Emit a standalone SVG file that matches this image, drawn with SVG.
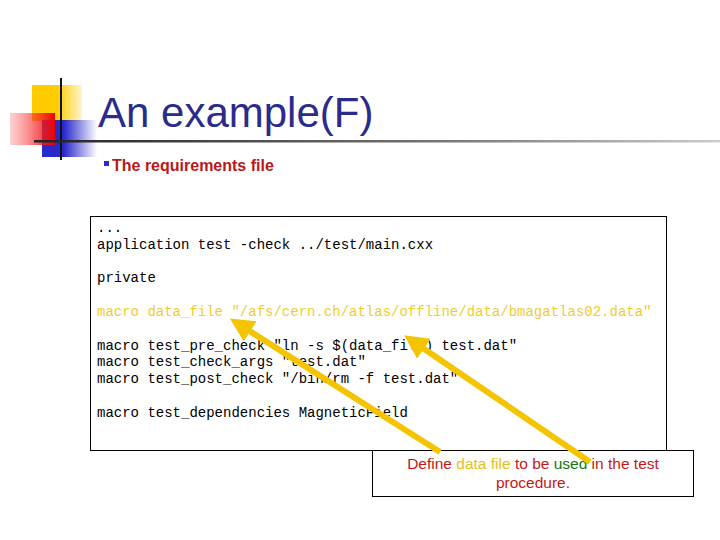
<svg xmlns="http://www.w3.org/2000/svg" width="720" height="540" viewBox="0 0 720 540">
<style>
.code{font-family:"Liberation Mono",monospace;font-size:14px;fill:#000}
.call{font-family:"Liberation Sans",Arial,sans-serif;font-size:15.5px;fill:#c41818}
.arrow{stroke:#f5c400;stroke-width:6;fill:none;marker-end:url(#ah)}
</style>
<defs>
<linearGradient id="red" x1="0" x2="1"><stop offset="0" stop-color="#ff6666" stop-opacity="0.3"/><stop offset="1" stop-color="#ee0000"/></linearGradient>
<linearGradient id="blue" x1="0" x2="1"><stop offset="0.4" stop-color="#2a2acc"/><stop offset="1" stop-color="#2a2acc" stop-opacity="0"/></linearGradient>
<linearGradient id="yel" x1="0" x2="1"><stop offset="0.5" stop-color="#ffcc00"/><stop offset="1" stop-color="#ffcc00" stop-opacity="0.2"/></linearGradient>
<linearGradient id="ln" x1="0" x2="1"><stop offset="0" stop-color="#222"/><stop offset="0.6" stop-color="#777"/><stop offset="1" stop-color="#ccc"/></linearGradient>
<marker id="ah" markerWidth="4" markerHeight="4" refX="2" refY="2" orient="auto"><path d="M0,0 L4,2 L0,4 z" fill="#f5c400"/></marker>
</defs>
<g id="decor">
<rect x="32" y="85" width="50" height="36" fill="url(#yel)"/>
<rect x="42" y="120" width="55" height="37" fill="url(#blue)"/>
<rect x="10" y="113" width="45" height="32" fill="url(#red)"/>
<line x1="61" y1="78" x2="61" y2="160" stroke="#111" stroke-width="2"/>
<rect x="34" y="140" width="686" height="2.5" fill="url(#ln)"/>
</g>
<g id="title">
<text x="98" y="127" font-family="Liberation Sans,Arial,sans-serif" font-size="42" fill="#2b2b8c">An example(F)</text>
<rect x="104" y="161" width="5" height="5" fill="#2b2bcc"/>
<text x="112" y="171" font-family="Liberation Sans,Arial,sans-serif" font-size="16" font-weight="bold" fill="#b81818">The requirements file</text>
</g>
<g id="code">
<rect x="90.5" y="216.5" width="576" height="234" fill="#fff" stroke="#000"/>
<text class="code" x="97" y="232">...</text>
<text class="code" x="97" y="249">application test -check ../test/main.cxx</text>
<text class="code" x="97" y="282">private</text>
<text class="code" x="97" y="316" style="fill:#f0cc30">macro data_file "/afs/cern.ch/atlas/offline/data/bmagatlas02.data"</text>
<text class="code" x="97" y="350">macro test_pre_check "ln -s $(data_file) test.dat"</text>
<text class="code" x="97" y="366">macro test_check_args "test.dat"</text>
<text class="code" x="97" y="383">macro test_post_check "/bin/rm -f test.dat"</text>
<text class="code" x="97" y="417">macro test_dependencies MagneticField</text>
</g>
<g id="callout">
<rect x="372.5" y="450.5" width="321" height="46" fill="#fff" stroke="#000"/>
<text class="call" x="533" y="469" text-anchor="middle">Define <tspan fill="#e8c020">data file</tspan> to be <tspan fill="#117711">used</tspan> in the test</text>
<text class="call" x="533" y="488" text-anchor="middle">procedure.</text>
</g>
<g id="connectors">
<line class="arrow" x1="440" y1="452" x2="240" y2="325"/>
<line class="arrow" x1="590" y1="462" x2="414" y2="342"/>
</g>
</svg>
